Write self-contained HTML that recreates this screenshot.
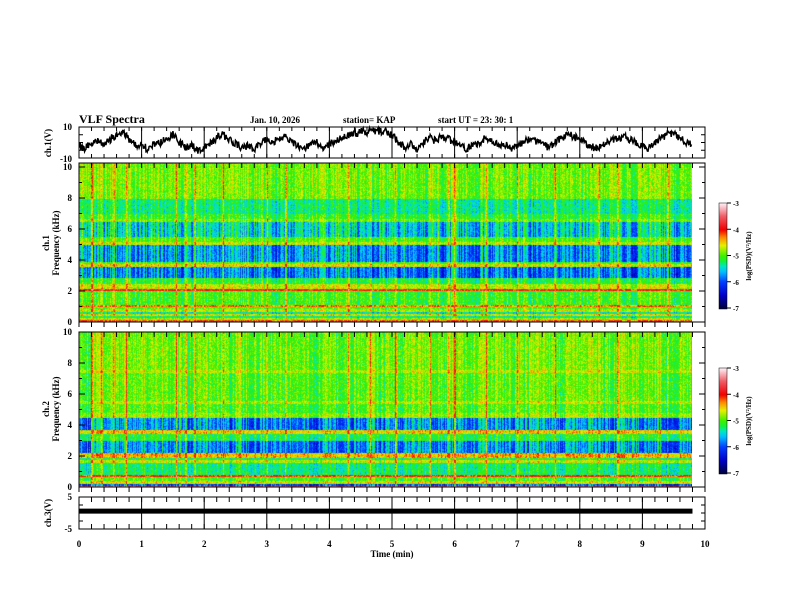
<!DOCTYPE html>
<html><head><meta charset="utf-8"><style>
body{margin:0;background:#fff;width:792px;height:612px;overflow:hidden;position:relative;font-family:"Liberation Serif",serif;}
canvas{position:absolute;}
svg{position:absolute;left:0;top:0;}
</style></head><body>
<canvas id="sp1" width="613" height="159" style="left:79px;top:163px"></canvas>
<canvas id="sp2" width="613" height="155" style="left:79px;top:332px"></canvas>
<canvas id="cb1" width="8" height="106" style="left:719px;top:203px"></canvas>
<canvas id="cb2" width="8" height="106" style="left:719px;top:368px"></canvas>
<svg id="ov" width="792" height="612"></svg>
<script>
// ---- data ----
const ch1Wave=[-2,-4,0,1,-1,2,4,6,2,-1,-2,-4,-1,0,2,5,0,-3,-2,-5,-3,0,3,5,2,-1,-3,-2,-4,-1,2,0,3,4,1,-2,-4,-1,0,-3,-1,1,3,5,6,7,7,8,7,7,5,0,-3,-1,-4,0,3,1,4,2,0,-3,-4,-1,0,3,1,-2,-1,-4,-2,0,2,1,-1,-3,0,3,5,4,2,-1,-3,-4,-1,1,3,4,2,0,-2,-4,0,3,5,6,3,0,-2];
const ch3Level=0.6;
const ch1Bands=[[0,0.15,-4.2],[0.15,0.3,-4.8],[0.3,0.45,-5.3],[0.45,0.55,-4.6],[0.55,0.7,-5.4],[0.7,0.85,-4.7],[0.85,1.0,-5.0],[1.0,1.1,-4.3],[1.1,2.05,-5.05],[2.05,2.15,-4.0],[2.15,2.5,-4.7],[2.5,2.9,-5.15],[2.9,3.6,-5.85],[3.6,3.75,-4.6],[3.75,3.9,-5.0],[3.9,5.0,-5.75],[5.0,5.2,-4.7],[5.2,5.5,-5.0],[5.5,6.5,-5.5],[6.5,6.7,-4.9],[6.7,7.0,-5.1],[7.0,8.0,-5.3],[8.0,10.4,-4.9]];
const ch2Bands=[[0,0.1,-3.4],[0.1,0.2,-6.0],[0.2,0.4,-4.6],[0.4,0.7,-5.0],[0.7,0.8,-4.1],[0.8,1.6,-5.25],[1.6,1.75,-4.7],[1.75,1.9,-5.2],[1.9,2.2,-4.4],[2.2,3.0,-5.75],[3.0,3.45,-5.15],[3.45,3.7,-4.5],[3.7,4.5,-5.75],[4.5,4.8,-4.8],[4.8,5.4,-5.0],[5.4,5.6,-4.7],[5.6,7.4,-4.95],[7.4,7.6,-4.7],[7.6,10.4,-4.9]];
const spikeTimes=[0.2,0.35,0.55,0.75,1.55,1.7,1.85,2.3,3.0,3.3,4.3,4.65,5.05,5.6,5.9,6.0,6.5,7.0,7.6,8.3,8.6,9.4];
const spikeStrength=[0.9,0.6,0.8,0.7,0.9,0.6,0.7,0.6,0.6,0.7,0.7,0.6,0.8,0.6,0.7,0.9,0.6,0.7,0.8,0.6,0.7,0.6];
const xTicks=[0,1,2,3,4,5,6,7,8,9,10];
const fTicks=[0,2,4,6,8,10];
const cbTicks=[-3,-4,-5,-6,-7];
const tEnd=9.8;
// ---- axes ----
const X=t=>79+t*62.6;
const Y1=v=>142.5-v*1.55;
const F1=f=>322-f*15.5;
const F2=f=>487-f*15.5;
const Y3=v=>513-v*3.2;
const ns="http://www.w3.org/2000/svg";
const ov=document.getElementById('ov');
function mk(tag,attrs,parent){const e=document.createElementNS(ns,tag);for(const k in attrs)e.setAttribute(k,attrs[k]);(parent||ov).appendChild(e);return e;}
function txt(x,y,s,size,anchor,rot,name){const e=mk('text',{x:x,y:y,'font-size':size,'font-weight':'bold','text-anchor':anchor||'start','font-family':'Liberation Serif, serif'});if(rot)e.setAttribute('transform','rotate(-90 '+x+' '+y+')');e.textContent=s;return e;}
function hash(a,b){let h=(a*374761393+b*668265263)^0x5bd1e995;h=(h^(h>>>13))*1274126177;h=h^(h>>>16);return ((h>>>0)%10000)/10000-0.5;}
function cmap(v){
 const stops=[[-7,[0,0,60]],[-6.5,[0,0,200]],[-6,[0,60,255]],[-5.6,[0,190,255]],[-5.4,[0,230,200]],[-5.2,[20,240,60]],[-5,[60,240,0]],[-4.6,[230,240,0]],[-4.3,[255,140,0]],[-4,[240,0,0]],[-3.5,[240,90,100]],[-3,[255,240,245]]];
 if(v<=-7)return stops[0][1];if(v>=-3)return stops[stops.length-1][1];
 for(let i=0;i<stops.length-1;i++){if(v>=stops[i][0]&&v<=stops[i+1][0]){const r=(v-stops[i][0])/(stops[i+1][0]-stops[i][0]);return stops[i][1].map((c,k)=>Math.round(c+(stops[i+1][1][k]-c)*r));}}
}
function bandLevel(bands,f){for(const b of bands)if(f>=b[0]&&f<b[1])return b[2];return -5;}
function drawSpec(id,bands,Fy,top,seed){
 const c=document.getElementById(id),g=c.getContext('2d'),W=c.width,H=c.height,img=g.createImageData(W,H);
 for(let i=0;i<W;i++){
  const t=i/62.6;
  let sp=0;spikeTimes.forEach((s,k)=>{const d=Math.abs(t-s)*62.6;if(d<1.2)sp=Math.max(sp,spikeStrength[k]*(1-d/1.4));});
  const col=hash(i,seed)*0.6+hash(Math.floor(i/6),seed+3)*0.3;
  for(let j=0;j<H;j++){
   const f=(Fy(0)-(top+j))/15.5;
   let v=bandLevel(bands,f);
   let dark=v<-5.4?1.5:0.7;
   v+=col*dark+hash(i*7+seed,j)*0.5+sp*(f>0.5?1:0.4);
   const rgb=cmap(v),p=(j*W+i)*4;img.data[p]=rgb[0];img.data[p+1]=rgb[1];img.data[p+2]=rgb[2];img.data[p+3]=255;
  }
 }
 g.putImageData(img,0,0);
}
drawSpec('sp1',ch1Bands,F1,163,11);
drawSpec('sp2',ch2Bands,F2,332,29);
['cb1','cb2'].forEach(id=>{const c=document.getElementById(id),g=c.getContext('2d');for(let j=0;j<c.height;j++){const v=-3-4*j/(c.height-1);const r=cmap(v);g.fillStyle='rgb('+r+')';g.fillRect(0,j,8,1);}});
// ---- frames ----
const boxes=[[127,158,'ch1-panel'],[163,322,'spec1-panel'],[332,487,'spec2-panel'],[497,529,'ch3-panel']];
boxes.forEach(b=>{const r=mk('rect',{x:79,y:b[0],width:626,height:b[1]-b[0],fill:'none',stroke:'#000','stroke-width':1});});
xTicks.forEach(t=>{[[127,158],[497,529]].forEach(p=>{const l=mk('line',{x1:X(t),x2:X(t),y1:p[0],y2:p[1],stroke:'#000','stroke-width':1});});});
for(let k=0;k<=50;k++){const t=k*0.2,x=X(t);[[127,4],[158,-4],[163,5],[322,5],[332,5],[487,5],[497,5],[529,-5]].forEach(p=>{const l=mk('line',{x1:x,x2:x,y1:p[0],y2:p[0]+p[1],stroke:'#000','stroke-width':1});});}
function yt(y,len){[[79,len],[705,-len]].forEach(p=>{const l=mk('line',{x1:p[0],x2:p[0]+p[1],y1:y,y2:y,stroke:'#000'});});}
for(let f=0;f<=10;f++){yt(F1(f),f%2?3:6);yt(F2(f),f%2?3:6);}
[-10,-5,0,5,10].forEach(v=>yt(Y1(v),4));
[-5,-2.5,0,2.5,5].forEach(v=>yt(Y3(v),4));
xTicks.forEach(t=>txt(X(t),547,String(t),9,'middle',0,'x-tick-label'));
txt(392,557,'Time  (min)',9,'middle',0,'x-axis-title');
fTicks.forEach(f=>{txt(72,F1(f)+3,String(f),9,'end',0,'ch1-freq-label');txt(72,F2(f)+3,String(f),9,'end',0,'ch2-freq-label');});
txt(72,130,'10',9,'end',0,'ch1-ytick');txt(72,162,'-10',9,'end',0,'ch1-ytick');
txt(72,500,'5',9,'end',0,'ch3-ytick');txt(72,532,'-5',9,'end',0,'ch3-ytick');
txt(51,143,'ch.1(V)',9,'middle',1,'ch1-axis-title');
txt(49,243,'ch.1',9,'middle',1,'spec1-axis-title');txt(59,243,'Frequency  (kHz)',9,'middle',1,'spec1-axis-title');
txt(49,409,'ch.2',9,'middle',1,'spec2-axis-title');txt(59,409,'Frequency  (kHz)',9,'middle',1,'spec2-axis-title');
txt(51,513,'ch.3(V)',9,'middle',1,'ch3-axis-title');
txt(79,123,'VLF Spectra',12,'start',0,'chart-title');
txt(250,123,'Jan. 10, 2026',9,'start',0,'date-label');
txt(343,123,'station= KAP',9,'start',0,'station-label');
txt(438,123,'start  UT  =   23: 30: 1',9,'start',0,'start-time-label');
[[203,'colorbar-1'],[368,'colorbar-2']].forEach(cb=>{cbTicks.forEach((v,k)=>{const y=cb[0]+k*(105/4);const l=mk('line',{x1:727,x2:731,y1:y,y2:y,stroke:'#000'});txt(733,y+3,String(v),7,'start',0,'colorbar-tick-label');});
 const r=mk('rect',{x:719,y:cb[0],width:8,height:106,fill:'none',stroke:'#000','stroke-width':0.5});
 txt(751,cb[0]+53,'log(PSD)(V²/Hz)',7,'middle',1,'colorbar-title');});
let pts=[];
for(let i=0;i<ch1Wave.length-1;i++){for(let s=0;s<10;s++){const t=(i+s/10)*0.1;const v=ch1Wave[i]+(ch1Wave[i+1]-ch1Wave[i])*s/10+hash(i,s)*5;pts.push(X(t).toFixed(1)+','+Y1(Math.max(-9.5,Math.min(9.5,v))).toFixed(1));}}
const pl=mk('polyline',{points:pts.join(' '),fill:'none',stroke:'#000','stroke-width':1.5});

const l3=mk('line',{x1:X(0),x2:X(tEnd),y1:Y3(ch3Level),y2:Y3(ch3Level),stroke:'#000','stroke-width':5});

</script>
</body></html>
